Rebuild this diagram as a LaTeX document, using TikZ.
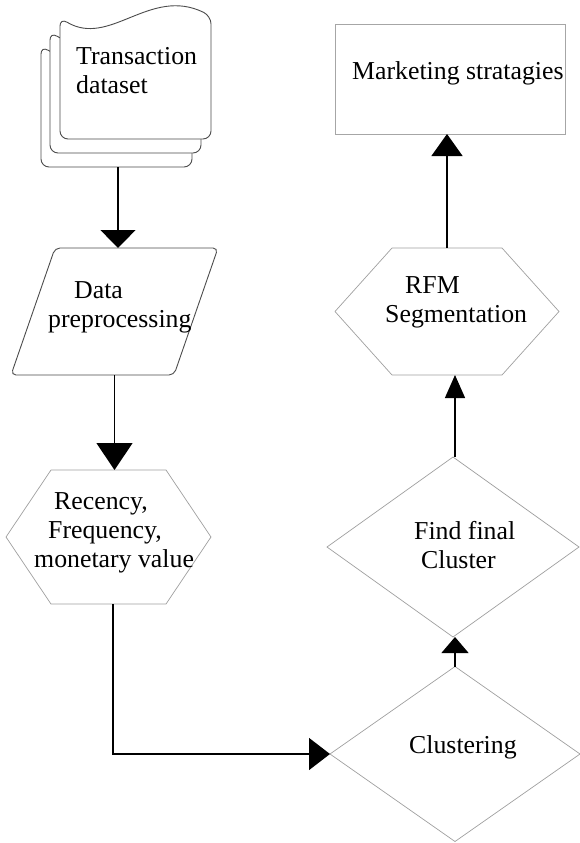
\documentclass[tikz,border=0pt]{standalone}
\usepackage{fontspec}
\setmainfont{Liberation Serif}
\usetikzlibrary{arrows.meta,shapes.geometric}

\tikzset{
  lbl/.style={font=\fontsize{25.8}{29}\selectfont, inner sep=0pt, anchor=base west, align=left},
  area/.style={inner sep=0pt, outer sep=0pt},
  thinline/.style={draw=gray!75, line width=0.7pt},
  pageline/.style={draw=black!70, line width=0.9pt, fill=white},
  flow/.style={draw=black, line width=1.3pt},
}

\begin{document}
\begin{tikzpicture}[x=1pt,y=-1pt]
        \useasboundingbox (0,0) rectangle (579,843);

        % stacked pages
        \foreach \dx/\dy in {-19/28, -10/14, 0/0} {
            \draw [pageline, rounded corners=8pt, shift={(\dx,\dy)}] (60,18) .. controls (110,48) and (150,-14) .. (211,16) -- (211,139) -- (60,139) -- cycle;
        }
        \node [lbl] (data) at (76,93) {Transaction\\dataset};
        \coordinate (stack) at (118,167);

        \node [area, rectangle, minimum width=207pt, minimum height=127pt] (pre) at (114.5,311.5) {};
        \draw [pageline, rounded corners=5pt] ([xshift=44pt]pre.north west) -- (pre.north east) -- ([xshift=-44pt]pre.south east) -- (pre.south west) -- cycle;
        \node [lbl] (pretext) at (48,327) {\hspace*{26pt}Data\\preprocessing};

        \node [area, rectangle, minimum width=205pt, minimum height=134pt] (rfv) at (108.5,537) {};
        \draw [thinline] ([xshift=45pt]rfv.north west) -- ([xshift=-45pt]rfv.north east) -- (rfv.east) -- ([xshift=-45pt]rfv.south east) -- ([xshift=45pt]rfv.south west) -- (rfv.west) -- cycle;
        \node [lbl] (rfvtext) at (34,567) {\hspace*{20pt}Recency,\\\hspace*{14pt}Frequency,\\monetary value};

        \node [area, diamond, thinline, minimum width=250pt, minimum height=175pt] (clus) at (455,754) {};
        \node [lbl] (clustext) at (409,753) {Clustering};

        \node [area, diamond, thinline, minimum width=252pt, minimum height=180pt] (find) at (453,547) {};
        \node [lbl] (findtext) at (414,568) {Find final\\\hspace*{7pt}Cluster};

        \node [area, rectangle, minimum width=224pt, minimum height=127pt] (rfm) at (447,311.5) {};
        \draw [thinline] ([xshift=57pt]rfm.north west) -- ([xshift=-57pt]rfm.north east) -- (rfm.east) -- ([xshift=-57pt]rfm.south east) -- ([xshift=57pt]rfm.south west) -- (rfm.west) -- cycle;
        \node [lbl] (rfmtext) at (385,322) {\hspace*{20pt}RFM\\Segmentation};

        \node [area, rectangle, draw=gray!70, line width=0.9pt, minimum width=230pt, minimum height=110pt] (mkt) at (450,79) {};
        \node [lbl] (mkttext) at (352,80) {Marketing stratagies};

        \draw [flow, -{Triangle[width=35pt,length=18pt]}] (stack) -- (stack |- pre.north);
        \draw [flow, -{Triangle[width=36pt,length=27pt]}] (pre.south) -- (pre.south |- rfv.north);
        \draw [flow, -{Triangle[width=32pt,length=21pt]}] ([xshift=4.5pt]rfv.south) |- (clus.west);
        \draw [flow, -{Triangle[width=27pt,length=16pt]}] (clus.north) -- (clus.north |- find.south);
        \draw [flow, -{Triangle[width=20pt,length=23pt]}] (clus.north |- find.north) -- (clus.north |- rfm.south);
        \draw [flow, -{Triangle[width=31pt,length=22pt]}] (rfm.north) -- (rfm.north |- mkt.south);
    \end{tikzpicture}
\end{document}
